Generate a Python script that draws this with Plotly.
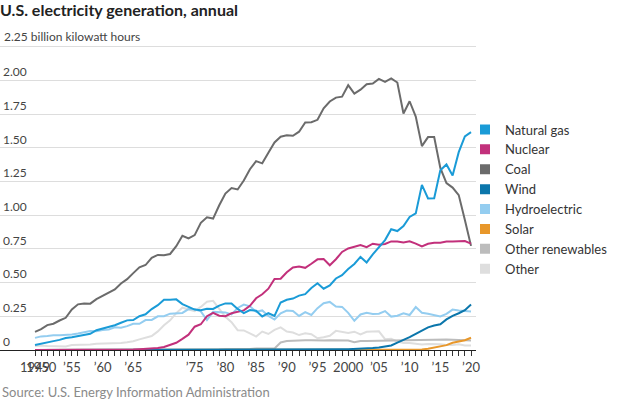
import plotly.graph_objects as go

years = list(range(1949, 2021))

coal = [0.135, 0.155, 0.185, 0.195, 0.219, 0.239, 0.301, 0.339, 0.346, 0.344,
        0.378, 0.403, 0.422, 0.450, 0.494, 0.526, 0.571, 0.614, 0.631, 0.685,
        0.706, 0.704, 0.713, 0.771, 0.848, 0.828, 0.853, 0.944, 0.985, 0.976,
        1.075, 1.162, 1.203, 1.192, 1.259, 1.342, 1.402, 1.386, 1.464, 1.541,
        1.584, 1.594, 1.591, 1.621, 1.690, 1.691, 1.709, 1.795, 1.845, 1.874,
        1.881, 1.966, 1.904, 1.933, 1.974, 1.978, 2.013, 1.991, 2.016, 1.986,
        1.756, 1.847, 1.733, 1.514, 1.581, 1.582, 1.352, 1.239, 1.206, 1.150,
        0.965, 0.773]

natural_gas = [0.037, 0.045, 0.057, 0.066, 0.075, 0.089, 0.095, 0.104, 0.114, 0.120,
               0.147, 0.158, 0.169, 0.184, 0.202, 0.220, 0.222, 0.251, 0.265, 0.304,
               0.333, 0.373, 0.374, 0.376, 0.341, 0.320, 0.300, 0.295, 0.306, 0.305,
               0.330, 0.346, 0.346, 0.305, 0.274, 0.297, 0.292, 0.249, 0.273, 0.253,
               0.353, 0.373, 0.382, 0.404, 0.415, 0.460, 0.496, 0.455, 0.479, 0.531,
               0.556, 0.601, 0.639, 0.691, 0.650, 0.710, 0.761, 0.816, 0.897, 0.883,
               0.921, 0.988, 1.014, 1.226, 1.125, 1.127, 1.334, 1.378, 1.296, 1.469,
               1.586, 1.618]

nuclear = [0.0, 0.0, 0.0, 0.0, 0.0, 0.0, 0.0, 0.0, 0.0, 0.0,
           0.0, 0.001, 0.002, 0.002, 0.003, 0.003, 0.004, 0.006, 0.008, 0.013,
           0.014, 0.022, 0.038, 0.054, 0.083, 0.114, 0.173, 0.191, 0.251, 0.276,
           0.255, 0.251, 0.273, 0.283, 0.294, 0.328, 0.384, 0.414, 0.455, 0.527,
           0.529, 0.577, 0.613, 0.619, 0.610, 0.640, 0.673, 0.675, 0.629, 0.674,
           0.728, 0.754, 0.769, 0.780, 0.764, 0.789, 0.782, 0.787, 0.806, 0.806,
           0.799, 0.807, 0.790, 0.769, 0.789, 0.797, 0.797, 0.806, 0.805, 0.807,
           0.809, 0.790]

wind = [0.0] * 40 + [0.002, 0.003, 0.003, 0.003, 0.003, 0.003, 0.003, 0.003, 0.003, 0.003,
                     0.005, 0.006, 0.007, 0.010, 0.011, 0.014, 0.018, 0.027, 0.034, 0.055,
                     0.074, 0.095, 0.120, 0.141, 0.168, 0.182, 0.191, 0.227, 0.254, 0.273,
                     0.296, 0.338]

hydro = [0.090, 0.101, 0.104, 0.110, 0.110, 0.112, 0.116, 0.122, 0.130, 0.141,
         0.139, 0.149, 0.153, 0.169, 0.166, 0.177, 0.194, 0.195, 0.222, 0.223,
         0.250, 0.251, 0.270, 0.275, 0.275, 0.304, 0.303, 0.287, 0.223, 0.283,
         0.283, 0.279, 0.264, 0.312, 0.337, 0.324, 0.284, 0.294, 0.253, 0.226,
         0.273, 0.293, 0.289, 0.253, 0.281, 0.260, 0.311, 0.347, 0.357, 0.323,
         0.320, 0.276, 0.217, 0.264, 0.276, 0.268, 0.270, 0.289, 0.248, 0.255,
         0.273, 0.260, 0.319, 0.276, 0.269, 0.259, 0.249, 0.268, 0.300, 0.293,
         0.288, 0.285]

solar = [0.0] * 40 + [0.0003, 0.0004, 0.0005, 0.0004, 0.0005, 0.0005, 0.0005, 0.0005, 0.0005, 0.0005,
                      0.0005, 0.0005, 0.0005, 0.0006, 0.0005, 0.0006, 0.0006, 0.0005, 0.0006, 0.0009,
                      0.0009, 0.0012, 0.0018, 0.0043, 0.0090, 0.0177, 0.0249, 0.0361, 0.0533, 0.0638,
                      0.0722, 0.0909]

other_renewables = [0.0, 0.0, 0.0, 0.0, 0.0, 0.0, 0.0, 0.0, 0.0, 0.0,
                    0.0, 0.001, 0.001, 0.001, 0.001, 0.001, 0.001, 0.001, 0.001, 0.001,
                    0.001, 0.001, 0.001, 0.002, 0.002, 0.003, 0.003, 0.004, 0.004, 0.003,
                    0.004, 0.006, 0.006, 0.005, 0.007, 0.008, 0.011, 0.012, 0.012, 0.012,
                    0.056, 0.066, 0.068, 0.072, 0.072, 0.073, 0.070, 0.071, 0.072, 0.072,
                    0.073, 0.070, 0.058, 0.066, 0.066, 0.067, 0.069, 0.069, 0.068, 0.070,
                    0.071, 0.072, 0.073, 0.073, 0.076, 0.080, 0.079, 0.078, 0.077, 0.077,
                    0.073, 0.071]

other = [0.029, 0.034, 0.029, 0.029, 0.030, 0.026, 0.037, 0.038, 0.040, 0.040,
         0.047, 0.048, 0.049, 0.049, 0.052, 0.057, 0.065, 0.079, 0.089, 0.104,
         0.138, 0.184, 0.220, 0.274, 0.314, 0.301, 0.289, 0.320, 0.358, 0.365,
         0.304, 0.246, 0.206, 0.147, 0.145, 0.120, 0.100, 0.137, 0.119, 0.149,
         0.168, 0.137, 0.130, 0.111, 0.124, 0.117, 0.087, 0.094, 0.106, 0.142,
         0.132, 0.126, 0.136, 0.115, 0.135, 0.137, 0.139, 0.080, 0.083, 0.062,
         0.052, 0.052, 0.046, 0.040, 0.044, 0.046, 0.043, 0.038, 0.037, 0.042,
         0.034, 0.034]

legend_names = ["Natural gas", "Nuclear", "Coal", "Wind", "Hydroelectric",
                "Solar", "Other renewables", "Other"]
colors = {
    "Natural gas": "#1a9bd7",
    "Nuclear": "#c2307b",
    "Coal": "#6b6b6b",
    "Wind": "#0b76ab",
    "Hydroelectric": "#94cdf0",
    "Solar": "#e8972a",
    "Other renewables": "#bcbcbc",
    "Other": "#dedede",
}
series = {
    "Natural gas": natural_gas,
    "Nuclear": nuclear,
    "Coal": coal,
    "Wind": wind,
    "Hydroelectric": hydro,
    "Solar": solar,
    "Other renewables": other_renewables,
    "Other": other,
}
draw_order = ["Other", "Other renewables", "Solar", "Hydroelectric", "Wind",
              "Coal", "Nuclear", "Natural gas"]

x_tickvals = [1949, 1950, 1955, 1960, 1965, 1975, 1980, 1985, 1990, 1995,
              2000, 2005, 2010, 2015, 2020]
x_ticktext = ["1949", "1950", "\u201955", "\u201960", "\u201965", "\u201975",
              "\u201980", "\u201985", "\u201990", "\u201995", "2000",
              "\u201905", "\u201910", "\u201915", "\u201920"]
y_tickvals = [0, 0.25, 0.5, 0.75, 1.0, 1.25, 1.5, 1.75, 2.0, 2.25]
y_ticktext = ["0", "0.25", "0.50", "0.75", "1.00", "1.25", "1.50", "1.75",
              "2.00", ""]
y_top_value = 2.25
y_top_label = "2.25 billion kilowatt hours"

FONT = "Lato, 'Liberation Sans', sans-serif"

fig = go.Figure()
for name in draw_order:
    fig.add_trace(go.Scatter(
        x=years, y=series[name], mode="lines", name=name,
        line=dict(color=colors[name], width=2), showlegend=False,
        hoverinfo="x+y+name"))
for name in legend_names:
    fig.add_trace(go.Scatter(
        x=[None], y=[None], mode="markers", name=name,
        marker=dict(symbol="square", size=10, color=colors[name]),
        showlegend=True))

fig.update_layout(
    width=620, height=400,
    margin=dict(l=0, r=144, t=30, b=50),
    paper_bgcolor="white", plot_bgcolor="white",
    font=dict(family=FONT, size=13, color="#333333"),
    title=dict(text="<b>U.S. electricity generation, annual</b>",
               x=0, xref="container", xanchor="left",
               y=0.975, yref="container", yanchor="middle",
               font=dict(family=FONT, size=16, color="#222222")),
    showlegend=True,
    legend=dict(x=465 / 476, xanchor="left", y=0.736, yanchor="top",
                font=dict(family=FONT, size=13, color="#333333"),
                bgcolor="rgba(0,0,0,0)", itemclick=False),
    xaxis=dict(range=[1943.3, 2020.81], tickmode="array", tickvals=x_tickvals,
               ticktext=x_ticktext, tickangle=0, ticks="outside", ticklen=5,
               tickcolor="#333333", tickwidth=1, showgrid=False,
               showline=True, linecolor="#222222", linewidth=1,
               zeroline=False, tickfont=dict(size=13, color="#444444"),
               minor=dict(tickmode="array", tickvals=years, ticks="outside",
                          ticklen=5, tickcolor="#333333", showgrid=False)),
    yaxis=dict(range=[0, 2.376], tickmode="array", tickvals=y_tickvals,
               ticktext=y_ticktext, ticklabelposition="inside top",
               showgrid=True, gridcolor="#dddddd", gridwidth=1,
               zeroline=False, showline=False, ticks="",
               tickfont=dict(size=12, color="#444444")),
    annotations=[
        dict(text=y_top_label, x=0, xref="paper", xanchor="left", xshift=2,
             y=y_top_value, yref="y", yanchor="bottom", yshift=1,
             showarrow=False, font=dict(family=FONT, size=12, color="#444444")),
        dict(text="Source: U.S. Energy Information Administration",
             x=0, xref="paper", xanchor="left",
             y=-0.131, yref="paper", yanchor="middle",
             showarrow=False,
             font=dict(family=FONT, size=13, color="#8a8a8a"))],
)

fig.write_html("out.html", config={"displayModeBar": False})
